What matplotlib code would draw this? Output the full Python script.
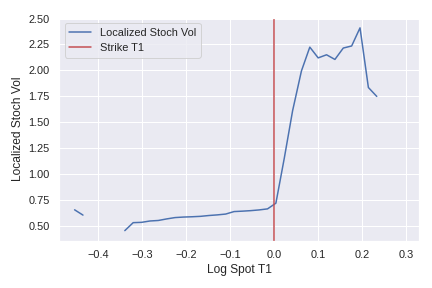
import numpy as np
import matplotlib
matplotlib.use("Agg")
import matplotlib.pyplot as plt
import seaborn as sns

sns.set_theme()
plt.rcParams['font.family'] = ['Liberation Sans', 'DejaVu Sans']

# log spot grid
log_spot = [-0.453, -0.434, -0.415, -0.396, -0.377, -0.358, -0.339, -0.320,
            -0.301, -0.282, -0.263, -0.244, -0.225, -0.206, -0.186, -0.167,
            -0.148, -0.129, -0.110, -0.091, -0.072, -0.053, -0.034, -0.015,
            0.004, 0.023, 0.042, 0.062, 0.081, 0.100, 0.119, 0.138, 0.157,
            0.176, 0.195, 0.214, 0.233, 0.252, 0.271, 0.290]
loc_vol = [0.653, 0.602, np.nan, np.nan, np.nan, np.nan, 0.452, 0.529,
           0.532, 0.545, 0.550, 0.565, 0.578, 0.583, 0.586, 0.590,
           0.598, 0.604, 0.612, 0.636, 0.640, 0.645, 0.652, 0.662,
           0.717, 1.150, 1.611, 1.994, 2.224, 2.120, 2.150, 2.105, 2.215,
           2.235, 2.410, 1.834, 1.748, np.nan, np.nan, np.nan]
strike = 0.0

fig, ax = plt.subplots(figsize=(6, 4), dpi=72)
ax.plot(log_spot, loc_vol, label='Localized Stoch Vol')
ax.axvline(strike, color='C3', label='Strike T1')
ax.set_xlim(-0.488, 0.329)
ax.set_xlabel('Log Spot T1')
ax.set_ylabel('Localized Stoch Vol')
ax.legend(loc='upper left')
fig.subplots_adjust(left=0.137, right=0.970, top=0.9385, bottom=0.164)
fig.savefig('out.png')
